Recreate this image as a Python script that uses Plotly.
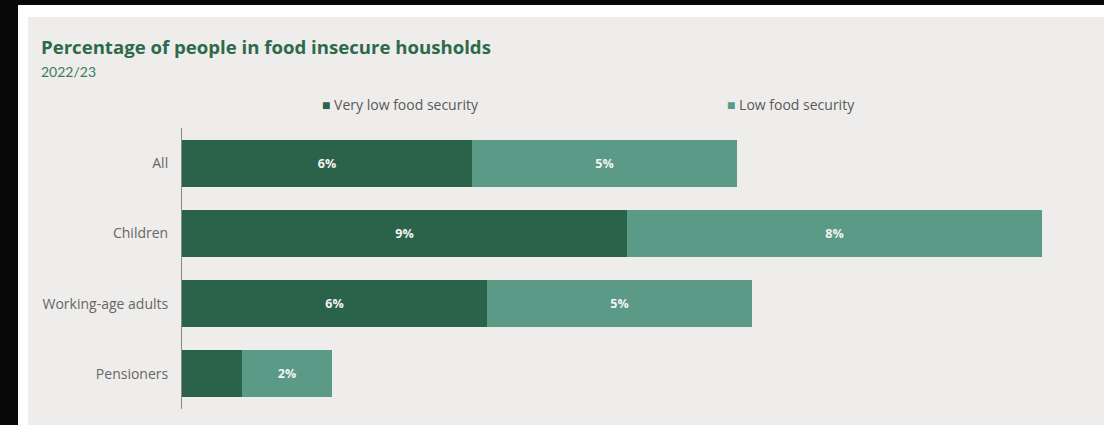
import plotly.graph_objects as go

# Share of people in food insecure households, 2022/23 (%)
groups = ["All", "Children", "Working-age adults", "Pensioners"]
very_low = [5.8, 8.9, 6.1, 1.2]
low = [5.3, 8.3, 5.3, 1.8]
series_names = ["Very low food security", "Low food security"]

DARK = "#2b634a"
LIGHT = "#5a9a87"
BG = "#eeedeb"
W, H = 1104, 425
ML, MR, MT, MB = 182, 22, 128, 16
PW, PH = W - ML - MR, H - MT - MB


def px_x(p):
    return (p - ML) / PW


def px_y(p):
    return (H - MB - p) / PH


def labels(vals):
    # very small segments are left unlabelled
    return [f"{v:.0f}%" if v >= 1.5 else "" for v in vals]


fig = go.Figure()
for name, vals, col in [(series_names[0], very_low, DARK), (series_names[1], low, LIGHT)]:
    fig.add_trace(go.Bar(
        y=groups, x=vals, name=name, orientation="h",
        marker=dict(color=col, line=dict(width=0)),
        text=labels(vals), textposition="inside", insidetextanchor="middle",
        textfont=dict(family="Open Sans", size=12.5, color="#f3f3f0", weight="bold"),
        textangle=0, hoverinfo="skip",
    ))

fig.update_layout(
    width=W, height=H,
    barmode="stack", bargap=0.333,
    showlegend=False,
    paper_bgcolor="#080808", plot_bgcolor=BG,
    margin=dict(l=ML, r=MR, t=MT, b=MB, pad=0),
    font=dict(family="Open Sans", size=14, color="#666666"),
    xaxis=dict(range=[0, 18], visible=False, fixedrange=True),
    yaxis=dict(
        type="category", categoryorder="array", categoryarray=groups,
        autorange="reversed", showgrid=False, zeroline=False,
        showline=True, linecolor="#8a8a8a", linewidth=1,
        ticks="", ticklabelstandoff=10,
        tickfont=dict(family="Open Sans", size=14, color="#666666"),
    ),
    shapes=[
        dict(type="rect", xref="paper", yref="paper", layer="below",
             x0=px_x(18), x1=px_x(W + 5), y0=px_y(H + 5), y1=px_y(5),
             fillcolor="#ffffff", line=dict(width=0)),
        dict(type="rect", xref="paper", yref="paper", layer="below",
             x0=px_x(28), x1=px_x(W + 5), y0=px_y(H + 5), y1=px_y(17),
             fillcolor=BG, line=dict(width=0)),
    ],
    annotations=[
        dict(text="<b>Percentage of people in food insecure housholds</b>",
             xref="paper", yref="paper", x=px_x(39), y=px_y(47),
             xanchor="left", yanchor="middle", showarrow=False,
             font=dict(family="Open Sans", size=18.6, color="#2d6a4c")),
        dict(text="2022/23",
             xref="paper", yref="paper", x=px_x(39), y=px_y(71),
             xanchor="left", yanchor="middle", showarrow=False,
             font=dict(family="Lato", size=14, color="#3c7a5a")),
        dict(text=f"<span style='color:{DARK}'>■</span> {series_names[0]}",
             xref="paper", yref="paper", x=px_x(320), y=px_y(105),
             xanchor="left", yanchor="middle", showarrow=False,
             font=dict(family="Open Sans", size=14, color="#595959")),
        dict(text=f"<span style='color:{LIGHT}'>■</span> {series_names[1]}",
             xref="paper", yref="paper", x=px_x(725), y=px_y(105),
             xanchor="left", yanchor="middle", showarrow=False,
             font=dict(family="Open Sans", size=14, color="#595959")),
    ],
)

fig.write_html("out.html", config={"displayModeBar": False})
